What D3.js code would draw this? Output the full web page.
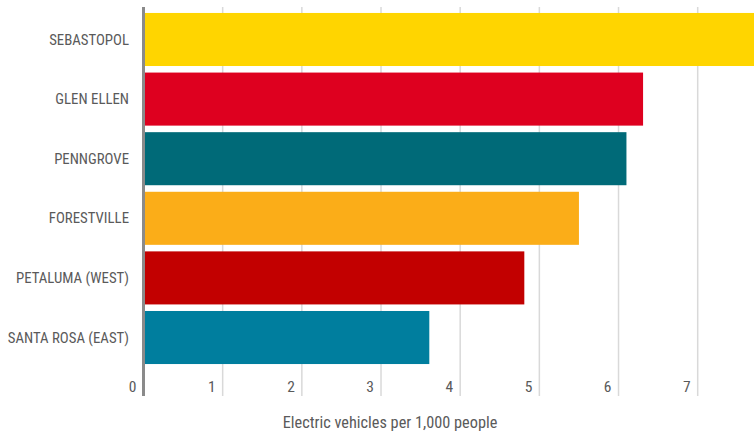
<!DOCTYPE html>
<html>
<head>
<meta charset="utf-8">
<script src="https://cdn.jsdelivr.net/npm/d3@7"></script>
<style>
  html, body { margin: 0; padding: 0; background: #fff; }
  svg { display: block; }
  text { font-family: "Liberation Sans Narrow", "Roboto Condensed", "Open Sans", sans-serif; fill: #5a5a5a; }
</style>
</head>
<body>
<svg id="chart" width="754" height="436"></svg>
<script>
const categories = ["SEBASTOPOL", "GLEN ELLEN", "PENNGROVE", "FORESTVILLE", "PETALUMA (WEST)", "SANTA ROSA (EAST)"];
const values = [7.9, 6.31, 6.10, 5.50, 4.81, 3.61];
const barColors = ["#FFD500", "#DE001F", "#006A78", "#FBAD18", "#C20000", "#007E9E"];
const tickValues = [0, 1, 2, 3, 4, 5, 6, 7];
const axisTitle = "Electric vehicles per 1,000 people";

const svg = d3.select("#chart");

const x = d3.scaleLinear().domain([0, 7]).range([143.5, 697.7]);
const y = d3.scaleBand().domain(categories).range([7, 370]).paddingInner(0.11).paddingOuter(0.1);

const gridTop = 7, gridBottom = 396;

// gridlines
svg.append("g").selectAll("line").data(tickValues.filter(d => d > 0)).join("line")
  .attr("x1", d => x(d)).attr("x2", d => x(d))
  .attr("y1", gridTop).attr("y2", gridBottom)
  .attr("stroke", "#d9d9d9").attr("stroke-width", 1.5);

// bars
svg.append("g").selectAll("rect").data(categories).join("rect")
  .attr("x", x(0))
  .attr("y", d => y(d))
  .attr("width", (d, i) => Math.max(0, x(values[i]) - x(0)))
  .attr("height", y.bandwidth())
  .attr("fill", (d, i) => barColors[i]);

// zero axis line
svg.append("line")
  .attr("x1", x(0)).attr("x2", x(0))
  .attr("y1", gridTop).attr("y2", gridBottom)
  .attr("stroke", "#8a8a8a").attr("stroke-width", 3);

// category labels
svg.append("g").selectAll("text").data(categories).join("text")
  .attr("x", 129)
  .attr("y", d => y(d) + y.bandwidth() / 2)
  .attr("dy", "0.35em")
  .attr("text-anchor", "end")
  .attr("font-size", 14.8)
  .text(d => d);

// tick labels
svg.append("g").selectAll("text").data(tickValues).join("text")
  .attr("x", d => x(d) - 7)
  .attr("y", 387)
  .attr("dy", "0.35em")
  .attr("text-anchor", "end")
  .attr("font-size", 15.5)
  .text(d => d);

// axis title
svg.append("text")
  .attr("x", 390)
  .attr("y", 422)
  .attr("dy", "0.35em")
  .attr("text-anchor", "middle")
  .attr("font-size", 16.3)
  .text(axisTitle);
</script>
</body>
</html>
